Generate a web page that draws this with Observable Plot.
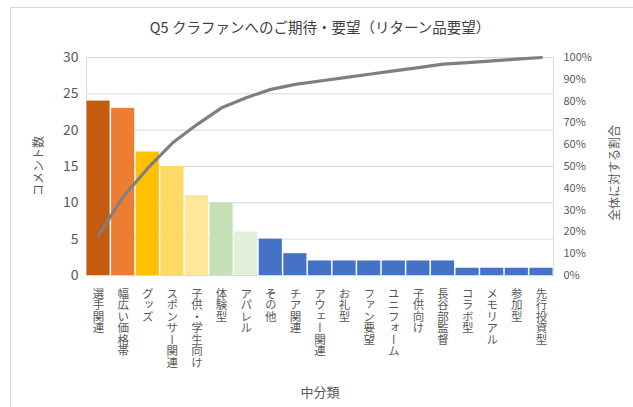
<!DOCTYPE html>
<html>
<head>
<meta charset="utf-8">
<script src="https://cdn.jsdelivr.net/npm/d3@7"></script>
<script src="https://cdn.jsdelivr.net/npm/@observablehq/plot@0.6"></script>
<style>
  html, body { margin: 0; padding: 0; background: #fff; }
  svg { font-family: "Noto Sans CJK JP", "Noto Sans", sans-serif; }
</style>
</head>
<body>
<div id="chart"></div>
<script>
const categories = ["選手関連","幅広い価格帯","グッズ","スポンサー関連","子供・学生向け","体験型","アパレル","その他","チア関連","アウェー関連","お礼型","ファン要望","ユニフォーム","子供向け","長谷部監督","コラボ型","メモリアル","参加型","先行投資型"];
const counts = [24,23,17,15,11,10,6,5,3,2,2,2,2,2,2,1,1,1,1];
const barColors = ["#C55A11","#ED7D31","#FFC000","#FFD966","#FFE699","#C5E0B4","#E2F0D9","#4472C4","#4472C4","#4472C4","#4472C4","#4472C4","#4472C4","#4472C4","#4472C4","#4472C4","#4472C4","#4472C4","#4472C4"];
const countTicks = [0,5,10,15,20,25,30];
const pctTicks = [0,10,20,30,40,50,60,70,80,90,100];
const title = "Q5 クラファンへのご期待・要望（リターン品要望）";
const yLeftTitle = "コメント数";
const yRightTitle = "全体に対する割合";
const xTitle = "中分類";

const total = d3.sum(counts);
const cum = d3.cumsum(counts);
const data = categories.map((c, i) => ({cat: c, n: counts[i], color: barColors[i], pct: cum[i] / total * 100}));
const yMax = 30;
const toY = p => p / 100 * yMax;

const chart = Plot.plot({
  width: 633,
  height: 407,
  marginLeft: 86,
  marginRight: 80,
  marginTop: 57,
  marginBottom: 132,
  style: {fontFamily: "'Noto Sans CJK JP', sans-serif", background: "#fff"},
  x: {domain: categories, paddingInner: 0.06, paddingOuter: 0.02, round: false, label: null},
  y: {domain: [0, yMax], label: null},
  color: {type: "identity"},
  marks: [
    Plot.ruleY(countTicks, {stroke: "#d9d9d9", strokeWidth: 1}),
    Plot.frame({stroke: "#d9d9d9"}),
    Plot.barY(data, {x: "cat", y: "n", fill: "color"}),
    Plot.line(data, {x: "cat", y: d => toY(d.pct), stroke: "#7f7f7f", strokeWidth: 3.2, strokeLinejoin: "round", strokeLinecap: "round"}),
    Plot.axisY(countTicks, {anchor: "left", tickSize: 0, tickPadding: 8, fontSize: 14, fill: "#595959", label: null}),
    Plot.axisY(pctTicks.map(toY), {anchor: "right", tickSize: 0, tickPadding: 10, fontSize: 11, fill: "#595959", tickFormat: v => Math.round(v / yMax * 100) + "%", label: null}),
    Plot.axisX({anchor: "bottom", tickSize: 0, tickPadding: 12, fontSize: 11.5, fill: "#595959", label: null})
  ]
});

const svg = d3.select(chart);
// restyle x tick labels as vertical upright text
svg.selectAll('g[aria-label="x-axis tick label"] text')
  .attr("y", 0).attr("dy", 0)
  .style("text-anchor", "start")
  .style("writing-mode", "vertical-rl")
  .style("text-orientation", "upright");

// outer chart frame
svg.insert("rect", ":first-child")
  .attr("x", 10.5).attr("y", 7.5).attr("width", 700).attr("height", 500)
  .attr("fill", "none").attr("stroke", "#d9d9d9");

svg.append("text").text(title)
  .attr("x", 320).attr("y", 33).attr("text-anchor", "middle")
  .attr("font-size", 14.5).attr("fill", "#404040");
svg.append("text").text(yLeftTitle)
  .attr("transform", "translate(43,166) rotate(-90)").attr("text-anchor", "middle")
  .attr("font-size", 12).attr("fill", "#595959");
svg.append("text").text(yRightTitle)
  .attr("transform", "translate(619,173) rotate(-90)").attr("text-anchor", "middle")
  .attr("font-size", 12).attr("fill", "#595959");
svg.append("text").text(xTitle)
  .attr("x", 320).attr("y", 397).attr("text-anchor", "middle")
  .attr("font-size", 13).attr("fill", "#595959");

document.getElementById("chart").appendChild(chart);
</script>
</body>
</html>
